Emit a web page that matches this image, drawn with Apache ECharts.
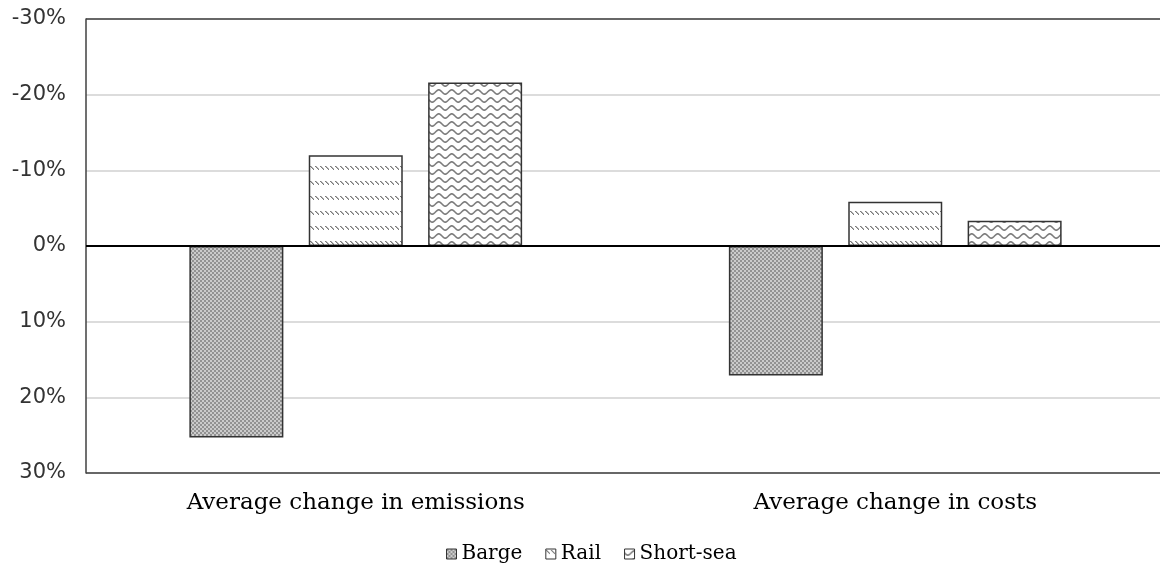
<!DOCTYPE html>
<html>
<head>
<meta charset="utf-8">
<title>Average change in emissions and costs</title>
<script src="https://cdn.jsdelivr.net/npm/echarts@6/dist/echarts.min.js"></script>
<style>
  html, body { margin: 0; padding: 0; background: #fff; }
  #chart { width: 1160px; height: 568px; }
</style>
</head>
<body>
<div id="chart"></div>
<script>
// Categories and series values (percent change; negative = reduction)
const categories = ['Average change in emissions', 'Average change in costs'];
const barge = [25.3, 17.1];
const rail = [-12.0, -5.85];
const shortSea = [-21.6, -3.35];

// Value axis range and step (axis is inverted: reductions point upward)
const axisMin = -30;
const axisMax = 30;
const axisStep = 10;

// Small canvas tiles used as repeating fill patterns
function makeTile(w, h, draw) {
  const c = document.createElement('canvas');
  c.width = w; c.height = h;
  const ctx = c.getContext('2d');
  draw(ctx, w, h);
  return c;
}

// Grey checker
const bargeTile = makeTile(4, 4, (ctx) => {
  ctx.fillStyle = '#cbcbcb';
  ctx.fillRect(0, 0, 4, 4);
  ctx.fillStyle = '#929292';
  ctx.fillRect(0, 0, 2, 2);
  ctx.fillRect(2, 2, 2, 2);
});

// Rows of short backslash dashes, drawn pixel by pixel
const railTile = makeTile(5, 15, (ctx) => {
  ctx.fillStyle = '#ffffff';
  ctx.fillRect(0, 0, 5, 15);
  ctx.fillStyle = '#7a7a7a';
  for (let i = 0; i < 4; i++) ctx.fillRect(i, 1 + i, 1, 1);
  ctx.fillStyle = '#b5b5b5';
  for (let i = 0; i < 3; i++) ctx.fillRect(i + 1, 1 + i, 1, 1);
});

// Wavy horizontal lines
const shortSeaTile = makeTile(13, 8, (ctx, w, h) => {
  ctx.fillStyle = '#ffffff';
  ctx.fillRect(0, 0, w, h);
  ctx.strokeStyle = '#7c7c7c';
  ctx.lineWidth = 1.6;
  ctx.beginPath();
  for (let x = -1; x <= w + 1; x += 0.5) {
    const y = 4 + 2.1 * Math.sin((2 * Math.PI * x) / w);
    if (x === -1) ctx.moveTo(x, y); else ctx.lineTo(x, y);
  }
  ctx.stroke();
});

function barSeries(name, data, tile) {
  return {
    name: name,
    type: 'bar',
    data: data,
    barWidth: 94,
    barGap: '27%',
    itemStyle: {
      color: { image: tile, repeat: 'repeat' },
      borderColor: '#333333',
      borderWidth: 1.5
    }
  };
}

const series = [
  barSeries('Barge', barge, bargeTile),
  barSeries('Rail', rail, railTile),
  barSeries('Short-sea', shortSea, shortSeaTile)
];

// Plot frame (top and bottom) and the zero baseline
series[0].markLine = {
  silent: true,
  symbol: 'none',
  label: { show: false },
  data: [
    { yAxis: axisMin, lineStyle: { color: '#404040', width: 1.5, type: 'solid' } },
    { yAxis: axisMax, lineStyle: { color: '#404040', width: 1.5, type: 'solid' } },
    { yAxis: 0, lineStyle: { color: '#000000', width: 2, type: 'solid' } }
  ]
};

const chart = echarts.init(document.getElementById('chart'), null, { renderer: 'canvas' });
chart.setOption({
  animation: false,
  backgroundColor: '#ffffff',
  grid: {
    left: 86,
    top: 19,
    width: 1079,
    height: 454,
    outerBoundsMode: 'none',
    containLabel: false
  },
  legend: {
    top: 539,
    left: 441,
    icon: 'rect',
    itemWidth: 10,
    itemHeight: 10,
    itemGap: 23,
    itemStyle: { borderColor: '#333333', borderWidth: 1 },
    textStyle: { fontFamily: 'DejaVu Serif', fontSize: 20, color: '#000000' },
    data: ['Barge', 'Rail', 'Short-sea']
  },
  xAxis: {
    type: 'category',
    data: categories,
    axisLine: { show: false },
    axisTick: { show: false },
    axisLabel: {
      fontFamily: 'DejaVu Serif',
      fontSize: 23,
      color: '#000000',
      margin: 19
    }
  },
  yAxis: {
    type: 'value',
    inverse: true,
    min: axisMin,
    max: axisMax,
    interval: axisStep,
    axisLine: { show: true, lineStyle: { color: '#404040', width: 1.5 } },
    axisTick: { show: false },
    splitLine: { lineStyle: { color: '#dcdcdc', width: 2 } },
    axisLabel: {
      formatter: (v) => v + '%',
      fontFamily: 'DejaVu Sans',
      fontSize: 21,
      color: '#333333',
      margin: 20
    }
  },
  series: series
});
</script>
</body>
</html>
